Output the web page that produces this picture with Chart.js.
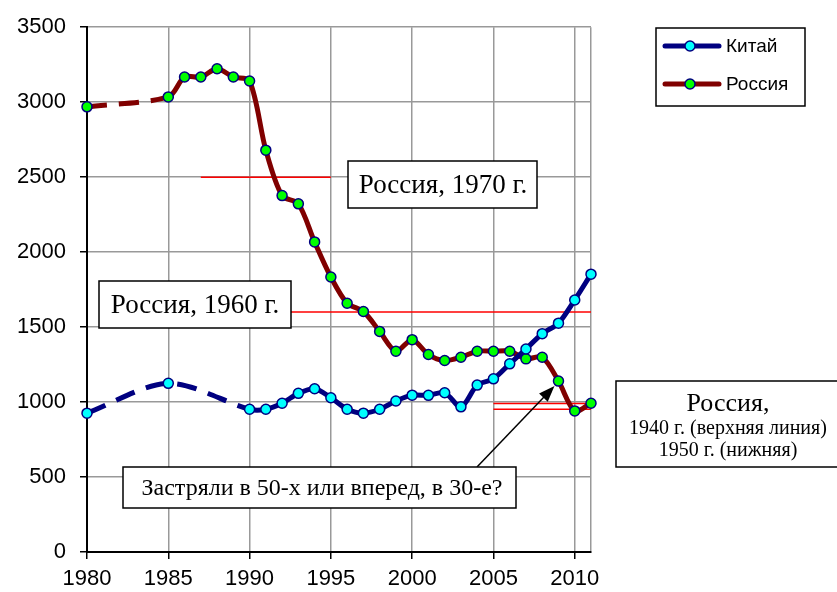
<!DOCTYPE html>
<html>
<head>
<meta charset="utf-8">
<script src="https://cdn.jsdelivr.net/npm/chart.js@4"></script>
<style>
  html, body { margin: 0; padding: 0; background: #fff; }
  canvas { display: block; }
</style>
</head>
<body>
<canvas id="chart" width="837" height="592"></canvas>
<script>
// данные
const chinaYears = [1980, 1985, 1990, 1991, 1992, 1993, 1994, 1995, 1996, 1997, 1998, 1999, 2000,
    2001, 2002, 2003, 2004, 2005, 2006, 2007, 2008, 2009, 2010, 2011];
const chinaValues = [926, 1125, 952, 952, 992, 1058, 1089, 1029, 952, 926, 952, 1007, 1046,
    1045, 1062, 968, 1113, 1155, 1255, 1354, 1456, 1526, 1681, 1853];

const russiaYears = [1980, 1985, 1986, 1987, 1988, 1989, 1990, 1991, 1992, 1993, 1994, 1995, 1996,
    1997, 1998, 1999, 2000, 2001, 2002, 2003, 2004, 2005, 2006, 2007, 2008, 2009, 2010, 2011];
const russiaValues = [2969, 3035, 3168, 3168, 3223, 3168, 3141, 2680, 2377, 2322, 2068, 1834, 1659,
    1604, 1471, 1339, 1416, 1317, 1277, 1299, 1339, 1339, 1339, 1288, 1299, 1140, 941, 992];

// красные уровни: [год от, год до, значение]
const refLines = [
    [1987, 1995, 2500],   // 1970 г.
    [1992, 2011, 1600],   // 1960 г.
    [2005, 2011, 990],    // 1940 г.
    [2005, 2011, 952]     // 1950 г.
];

const xTicks = [1980, 1985, 1990, 1995, 2000, 2005, 2010, 2011];
const xTickLabels = ['1980', '1985', '1990', '1995', '2000', '2005', '2010', ''];
const yTicks = [0, 500, 1000, 1500, 2000, 2500, 3000, 3500];

const toPoints = (xs, ys) => xs.map((x, i) => ({ x: x, y: ys[i] }));
const gapDash = ctx => (ctx.p1.parsed.x - ctx.p0.parsed.x > 1 ? [20, 12] : undefined);

const refDatasets = refLines.map(r => ({
    label: '',
    data: [{ x: r[0], y: r[2] }, { x: r[1], y: r[2] }],
    borderColor: '#ff0000',
    borderWidth: 1.5,
    pointRadius: 0,
    tension: 0,
    order: 5
}));

function box(c, x1, y1, x2, y2) {
    c.fillStyle = '#fff';
    c.fillRect(x1, y1, x2 - x1, y2 - y1);
    c.strokeStyle = '#000';
    c.lineWidth = 1.5;
    c.strokeRect(x1, y1, x2 - x1, y2 - y1);
}

const notes = {
    id: 'notes',
    afterDraw(chart) {
        const c = chart.ctx;
        const sx = chart.scales.x, sy = chart.scales.y;
        c.save();

        // стрелка к точке 2009
        const i2009 = russiaYears.indexOf(2009);
        const tx = sx.getPixelForValue(2009) - 4;
        const ty = sy.getPixelForValue(russiaValues[i2009]) + 5;
        const fx = 477, fy = 467;
        const ang = Math.atan2(ty - fy, tx - fx);
        c.strokeStyle = '#000';
        c.lineWidth = 1.5;
        c.beginPath();
        c.moveTo(fx, fy);
        c.lineTo(tx - 10 * Math.cos(ang), ty - 10 * Math.sin(ang));
        c.stroke();
        c.fillStyle = '#000';
        c.beginPath();
        c.moveTo(tx, ty);
        c.lineTo(tx - 16 * Math.cos(ang) + 6 * Math.sin(ang), ty - 16 * Math.sin(ang) - 6 * Math.cos(ang));
        c.lineTo(tx - 16 * Math.cos(ang) - 6 * Math.sin(ang), ty - 16 * Math.sin(ang) + 6 * Math.cos(ang));
        c.closePath();
        c.fill();

        // подписи
        c.textBaseline = 'middle';
        c.textAlign = 'center';
        box(c, 348, 161, 537, 208);
        c.fillStyle = '#000';
        c.font = '27px "Liberation Serif"';
        c.fillText('Россия, 1970 г.', 443, 186);

        box(c, 99, 281, 291, 328);
        c.fillStyle = '#000';
        c.fillText('Россия, 1960 г.', 195, 306);

        box(c, 123, 467, 516, 508);
        c.fillStyle = '#000';
        c.font = '24px "Liberation Serif"';
        c.fillText('Застряли в 50-х или вперед, в 30-е?', 322, 489);

        box(c, 616, 381, 838, 467);
        c.fillStyle = '#000';
        c.font = '26px "Liberation Serif"';
        c.fillText('Россия,', 728, 404);
        c.font = '20px "Liberation Serif"';
        c.fillText('1940 г. (верхняя линия)', 728, 429);
        c.fillText('1950 г. (нижняя)', 728, 451);

        // легенда
        box(c, 656, 28, 805, 106);
        const items = [
            ['Китай', '#000080', '#00ffff', 46],
            ['Россия', '#800000', '#00ff00', 84]
        ];
        items.forEach(it => {
            c.strokeStyle = it[1];
            c.lineWidth = 5;
            c.lineCap = 'round';
            c.beginPath();
            c.moveTo(665, it[3]);
            c.lineTo(719, it[3]);
            c.stroke();
            c.fillStyle = it[2];
            c.strokeStyle = '#000080';
            c.lineWidth = 1.5;
            c.beginPath();
            c.arc(690, it[3], 5, 0, Math.PI * 2);
            c.fill();
            c.stroke();
            c.fillStyle = '#000';
            c.textAlign = 'left';
            c.font = '19px "Liberation Sans"';
            c.fillText(it[0], 726, it[3] + 1);
        });
        c.restore();
    }
};

const ctx = document.getElementById('chart').getContext('2d');
const chart = new Chart(ctx, {
    type: 'line',
    data: {
        datasets: [
            {
                label: 'Китай',
                data: toPoints(chinaYears, chinaValues),
                borderColor: '#000080',
                borderWidth: 5,
                pointBackgroundColor: '#00ffff',
                pointBorderColor: '#000080',
                pointBorderWidth: 1.5,
                pointRadius: 5,
                tension: 0.3,
                segment: { borderDash: gapDash },
                order: 0
            },
            {
                label: 'Россия',
                data: toPoints(russiaYears, russiaValues),
                borderColor: '#800000',
                borderWidth: 5,
                pointBackgroundColor: '#00ff00',
                pointBorderColor: '#000080',
                pointBorderWidth: 1.5,
                pointRadius: 5,
                tension: 0.3,
                segment: { borderDash: gapDash },
                order: 1
            },
            ...refDatasets
        ]
    },
    options: {
        responsive: false,
        animation: false,
        clip: false,
        layout: {
            padding: { left: 0, top: 24, right: 246, bottom: 0 }
        },
        plugins: {
            legend: { display: false },
            title: { display: false },
            tooltip: { enabled: false }
        },
        scales: {
            x: {
                type: 'linear',
                min: 1980,
                max: 2011,
                afterBuildTicks: s => { s.ticks = xTicks.map(v => ({ value: v })); },
                ticks: {
                    color: '#000',
                    padding: 7,
                    maxRotation: 0,
                    autoSkip: false,
                    font: { size: 22, family: '"Liberation Sans"' },
                    callback: v => xTickLabels[xTicks.indexOf(v)]
                },
                grid: {
                    color: '#999',
                    lineWidth: 1.5,
                    tickColor: c => (c.tick && c.tick.value === 2011 ? 'rgba(0,0,0,0)' : '#000'),
                    tickLength: 7
                },
                border: { color: '#000', width: 2 },
                afterFit: s => { s.height = 40; }
            },
            y: {
                min: 0,
                max: 3500,
                afterBuildTicks: s => { s.ticks = yTicks.map(v => ({ value: v })); },
                ticks: {
                    color: '#000',
                    padding: 14,
                    font: { size: 22, family: '"Liberation Sans"' },
                    callback: v => String(v)
                },
                grid: {
                    color: '#999',
                    lineWidth: 1.5,
                    tickColor: '#000',
                    tickLength: 7
                },
                border: { color: '#000', width: 2 },
                afterFit: s => { s.width = 87; }
            }
        }
    },
    plugins: [notes]
});
</script>
</body>
</html>
